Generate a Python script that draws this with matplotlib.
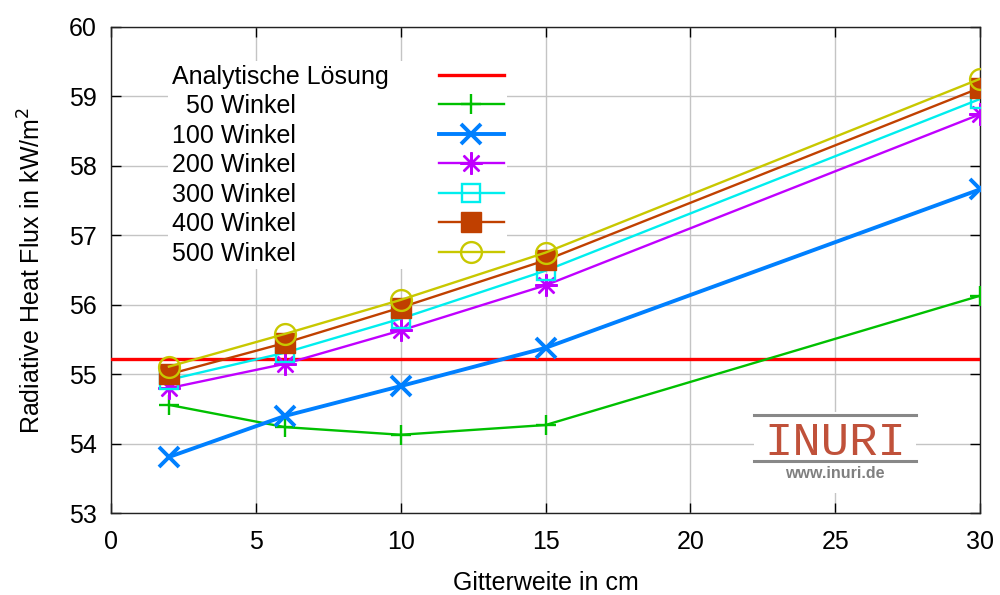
"""Strahlungswaermestrom ueber Gitterweite fuer verschiedene Winkelzahlen."""

import matplotlib
matplotlib.use("Agg")
import matplotlib.pyplot as plt
from matplotlib.patches import Rectangle
from matplotlib.lines import Line2D

plt.rcParams["font.family"] = ["Liberation Sans", "DejaVu Sans"]

gitterweite = [2, 6, 10, 15, 30]
analytisch = 55.22
winkel_50 = [54.56, 54.24, 54.13, 54.27, 56.13]
winkel_100 = [53.81, 54.40, 54.83, 55.38, 57.66]
winkel_200 = [54.80, 55.15, 55.63, 56.28, 58.74]
winkel_300 = [54.92, 55.31, 55.80, 56.49, 58.96]
winkel_400 = [55.00, 55.45, 55.96, 56.64, 59.12]
winkel_500 = [55.11, 55.58, 56.07, 56.75, 59.25]

FS = 18

fig = plt.figure(figsize=(10, 5.95), dpi=100)
ax = fig.add_axes([0.111, 0.1373, 0.869, 0.8178])

ax.axhline(analytisch, color="#ff0000", lw=2.4, label="Analytische Lösung", zorder=3)
ax.plot(gitterweite, winkel_50, color="#00c000", lw=1.7, marker="+", ms=15, mew=1.7,
        label="  50 Winkel", zorder=3)
ax.plot(gitterweite, winkel_100, color="#0080ff", lw=2.8, marker="x", ms=14, mew=2.8,
        label="100 Winkel", zorder=3)
ax.plot(gitterweite, winkel_200, color="#c000ff", lw=1.7, marker=(8, 2, 0), ms=16, mew=1.7,
        label="200 Winkel", zorder=3)
ax.plot(gitterweite, winkel_300, color="#00eeee", lw=1.7, marker="s", ms=13, mew=1.7,
        mfc="none", label="300 Winkel", zorder=3)
ax.plot(gitterweite, winkel_400, color="#c04000", lw=1.7, marker="s", ms=14,
        label="400 Winkel", zorder=3)
ax.plot(gitterweite, winkel_500, color="#c8c800", lw=1.7, marker="o", ms=15, mew=1.7,
        mfc="none", label="500 Winkel", zorder=3)

ax.set_xlim(0, 30)
ax.set_ylim(53, 60)
ax.set_xticks([0, 5, 10, 15, 20, 25, 30])
ax.set_yticks(range(53, 61))
ax.tick_params(direction="in", length=7, width=1, top=True, right=True,
               labelsize=FS)
ax.tick_params(axis="x", pad=12)
ax.tick_params(axis="y", pad=10)
ax.grid(True, color="#c4c4c4", lw=1)
ax.set_axisbelow(True)
for s in ax.spines.values():
    s.set_linewidth(1)
    s.set_color("#222222")

ax.set_xlabel("Gitterweite in cm", fontsize=FS, labelpad=12)
ax.set_ylabel("Radiative Heat Flux in kW/m$^2$", fontsize=FS, labelpad=17)

leg = ax.legend(loc="upper left", bbox_to_anchor=(0.0656, 0.930), markerfirst=False,
                fontsize=FS, handlelength=2.6, handletextpad=2.0, labelspacing=0.22,
                frameon=True, fancybox=False, borderpad=0.15, borderaxespad=0)
leg.get_frame().set_edgecolor("none")
leg.get_frame().set_facecolor("white")
leg.get_frame().set_alpha(1)
# ueber dem Gitter, aber unter den Datenlinien
leg.set_zorder(2.5)

# gnuplot-artige Legende: Texte linksbuendig, Symbole rechts
fig.canvas.draw()
renderer = fig.canvas.get_renderer()
texts = leg.get_texts()
widths = [t.get_window_extent(renderer).width for t in texts]
rows = leg._legend_handle_box.get_children()[0].get_children()
for row, w in zip(rows, widths):
    row.sep += (max(widths) - w) * 72.0 / fig.dpi

# Logo
fig.patches.append(Rectangle((0.754, 0.172), 0.162, 0.136, transform=fig.transFigure,
                             facecolor="white", edgecolor="none", zorder=1))
for yy in (0.3025, 0.2252):
    fig.lines.append(Line2D([0.754, 0.916], [yy, yy], transform=fig.transFigure,
                            color="#888888", lw=2.2, zorder=1.5))
fig.text(0.835, 0.2635, "INURI", ha="center", va="center_baseline",
         fontsize=34, family="Liberation Mono", color="#c0513a", zorder=1.5)
fig.text(0.835, 0.2035, "www.inuri.de", ha="center", va="center",
         fontsize=11.5, fontweight="bold", color="#808080", zorder=1.5)

fig.savefig("out.png", dpi=100)
